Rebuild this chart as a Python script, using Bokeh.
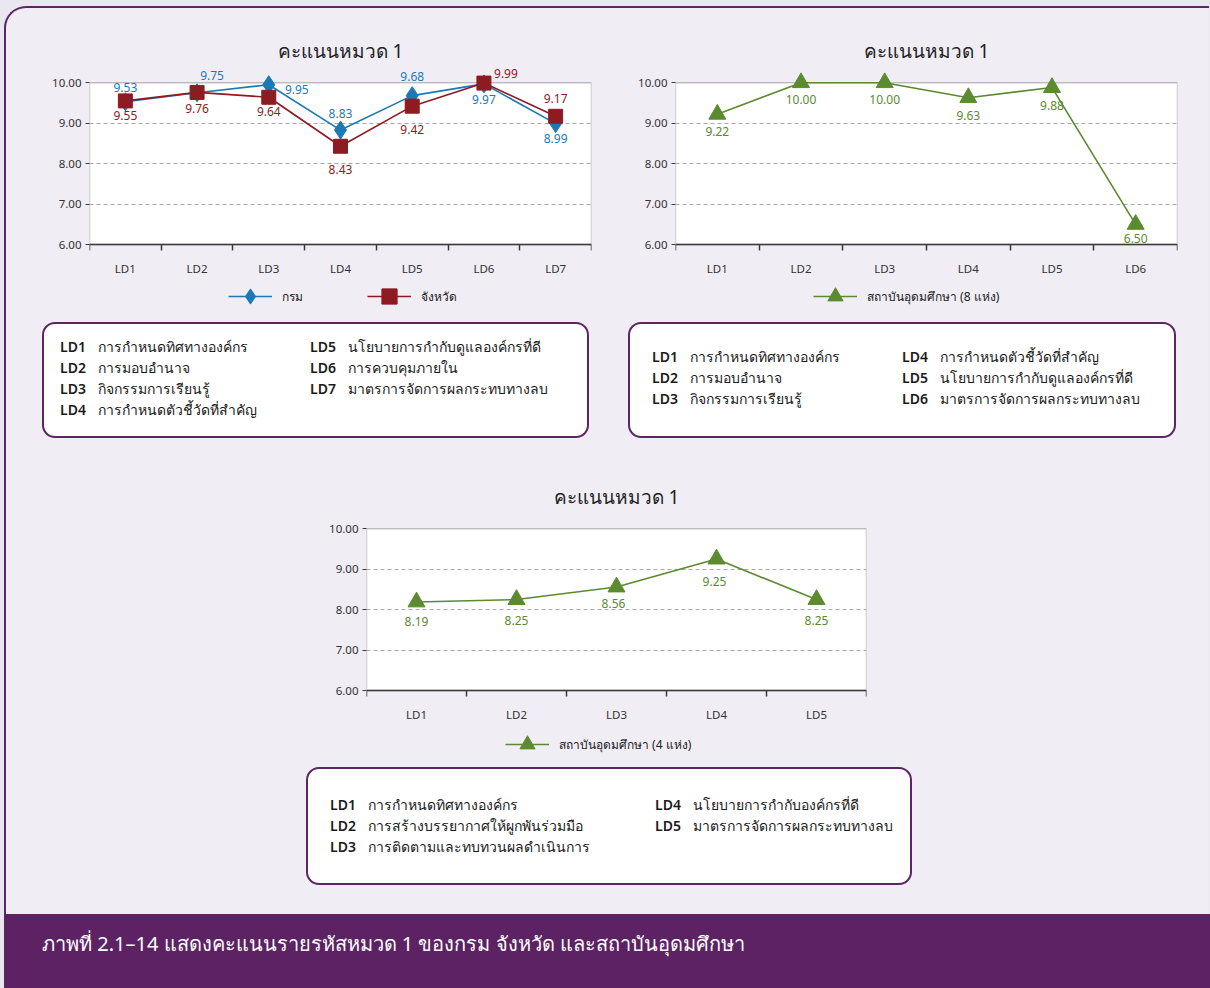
from bokeh.plotting import figure
from bokeh.models import (ColumnDataSource, FixedTicker, NumeralTickFormatter,
                          Legend, LegendItem, Div, Spacer, Range1d, BoxAnnotation)
from bokeh.layouts import column, row
from bokeh.core.properties import value
from bokeh.embed import file_html
from bokeh.resources import INLINE

# ---------------- data ----------------
chart_title = "คะแนนหมวด 1"

c1_categories = ["LD1", "LD2", "LD3", "LD4", "LD5", "LD6", "LD7"]
c1_dept = [9.53, 9.75, 9.95, 8.83, 9.68, 9.97, 8.99]
c1_prov = [9.55, 9.76, 9.64, 8.43, 9.42, 9.99, 9.17]
c1_series = ["กรม", "จังหวัด"]

c2_categories = ["LD1", "LD2", "LD3", "LD4", "LD5", "LD6"]
c2_inst = [9.22, 10.00, 10.00, 9.63, 9.88, 6.50]
c2_series = "สถาบันอุดมศึกษา (8 แห่ง)"

c3_categories = ["LD1", "LD2", "LD3", "LD4", "LD5"]
c3_inst = [8.19, 8.25, 8.56, 9.25, 8.25]
c3_series = "สถาบันอุดมศึกษา (4 แห่ง)"

y_min, y_max = 6, 10
y_ticks = [6, 7, 8, 9, 10]
grid_ticks = [7, 8, 9]

box1_codes = ["LD1", "LD2", "LD3", "LD4", "LD5", "LD6", "LD7"]
box1_terms = ["การกำหนดทิศทางองค์กร", "การมอบอำนาจ", "กิจกรรมการเรียนรู้",
              "การกำหนดตัวชี้วัดที่สำคัญ", "นโยบายการกำกับดูแลองค์กรที่ดี",
              "การควบคุมภายใน", "มาตรการจัดการผลกระทบทางลบ"]
box2_codes = ["LD1", "LD2", "LD3", "LD4", "LD5", "LD6"]
box2_terms = ["การกำหนดทิศทางองค์กร", "การมอบอำนาจ", "กิจกรรมการเรียนรู้",
              "การกำหนดตัวชี้วัดที่สำคัญ", "นโยบายการกำกับดูแลองค์กรที่ดี",
              "มาตรการจัดการผลกระทบทางลบ"]
box3_codes = ["LD1", "LD2", "LD3", "LD4", "LD5"]
box3_terms = ["การกำหนดทิศทางองค์กร", "การสร้างบรรยากาศให้ผูกพันร่วมมือ",
              "การติดตามและทบทวนผลดำเนินการ", "นโยบายการกำกับองค์กรที่ดี",
              "มาตรการจัดการผลกระทบทางลบ"]

caption = "ภาพที่ 2.1–14  แสดงคะแนนรายรหัสหมวด 1 ของกรม จังหวัด และสถาบันอุดมศึกษา"

# ---------------- styles ----------------
BG = "#f0edf5"
OUTER = "#ebe7f0"
PURPLE = "#5d2466"
BLUE = "#1b7ab5"
RED = "#8e1b22"
GREEN = "#5b8a2f"
AXIS = "#3a3a3a"
FONT = "Noto Sans"
HEADROOM = 0.4   # space above the plot box so top markers are not clipped
FOOTROOM = 1.85  # space below the plot box for the category labels and legend


def base_chart(categories, width, height, left, right, top, bottom):
    n = len(categories)
    p = figure(width=width, height=height, output_backend="svg", toolbar_location=None,
               x_range=Range1d(0.5, n + 0.5),
               y_range=Range1d(y_min - FOOTROOM, y_max + HEADROOM),
               min_border_left=left, min_border_right=right,
               min_border_top=top, min_border_bottom=bottom,
               background_fill_color=BG, background_fill_alpha=0,
               border_fill_color=BG, border_fill_alpha=0)
    p.outline_line_color = None
    box = BoxAnnotation(left=0.5, right=n + 0.5, bottom=y_min, top=y_max,
                        fill_color="white", fill_alpha=1,
                        line_color=AXIS, line_width=1.5, level="image")
    p.add_layout(box)
    p.title.text = chart_title
    p.title.align = "center"
    p.title.text_font = FONT
    p.title.text_font_size = "19px"
    p.title.text_font_style = "normal"
    p.title.text_color = "#222222"
    p.title.standoff = 6
    p.xgrid.visible = False
    p.ygrid.ticker = FixedTicker(ticks=grid_ticks)
    p.ygrid.grid_line_color = "#a8a8a8"
    p.ygrid.grid_line_dash = "4 3"
    p.ygrid.grid_line_width = 1
    p.yaxis.ticker = FixedTicker(ticks=y_ticks)
    p.yaxis.formatter = NumeralTickFormatter(format="0.00")
    p.yaxis.minor_tick_line_color = None
    p.yaxis.major_tick_in = 0
    p.yaxis.major_tick_out = 4
    p.yaxis.axis_line_color = None
    p.yaxis.major_tick_line_color = AXIS
    p.yaxis.major_label_text_font = FONT
    p.yaxis.major_label_text_font_size = "11.5px"
    p.yaxis.major_label_text_color = "#333333"
    p.yaxis.major_label_standoff = 4
    centers = list(range(1, n + 1))
    p.xaxis.fixed_location = y_min
    p.xaxis.ticker = FixedTicker(ticks=centers,
                                 minor_ticks=[i + 0.5 for i in range(0, n + 1)])
    p.xaxis.major_label_overrides = {c: lab for c, lab in zip(centers, categories)}
    p.xaxis.major_tick_line_color = None
    p.xaxis.minor_tick_line_color = AXIS
    p.xaxis.minor_tick_line_width = 1.5
    p.xaxis.minor_tick_in = 0
    p.xaxis.minor_tick_out = 6
    p.xaxis.axis_line_color = AXIS
    p.xaxis.axis_line_width = 1.5
    p.xaxis.major_label_text_font = FONT
    p.xaxis.major_label_text_font_size = "11.5px"
    p.xaxis.major_label_text_color = "#333333"
    p.xaxis.major_label_standoff = 10
    return p


def add_labels(p, xs, ys, color, xoff, yoff):
    src = ColumnDataSource(dict(x=xs, y=ys, t=["%.2f" % v for v in ys],
                                xo=xoff, yo=yoff))
    p.text(x="x", y="y", text="t", source=src, x_offset="xo", y_offset="yo",
           text_align="center", text_baseline="middle", text_color=color,
           text_font=value(FONT), text_font_size="12px")


def make_legend(p, items, spacing, loc):
    lg = Legend(items=items, orientation="horizontal", location=loc,
                border_line_color=None, background_fill_alpha=0,
                glyph_width=44, glyph_height=38, label_height=16,
                label_standoff=10, spacing=spacing, padding=0, margin=0,
                label_text_font=FONT, label_text_font_size="12px",
                label_text_color="#222222")
    p.add_layout(lg)


# ---------------- chart 1 ----------------
p1 = base_chart(c1_categories, 597, 308, 81, 14, 55, 0)
x1 = list(range(1, len(c1_categories) + 1))
l1 = p1.line(x1, c1_dept, line_color=BLUE, line_width=1.6)
s1 = p1.scatter(x1, c1_dept, marker="diamond", size=18, fill_color=BLUE, line_color=BLUE)
l2 = p1.line(x1, c1_prov, line_color=RED, line_width=1.6)
s2 = p1.scatter(x1, c1_prov, marker="square", size=14, fill_color=RED, line_color=RED)
add_labels(p1, x1, c1_dept, BLUE,
           [0, 15, 28, 0, 0, 0, 0], [-14, -17, 5, -17, -19, 16, 15])
add_labels(p1, x1, c1_prov, RED,
           [0, 0, 0, 0, 0, 22, 0], [15, 16, 14, 23, 23, -10, -18])
make_legend(p1, [LegendItem(label=c1_series[0], renderers=[l1, s1]),
                 LegendItem(label=c1_series[1], renderers=[l2, s2])], 64, (139, 4))

# ---------------- chart 2 ----------------
p2 = base_chart(c2_categories, 600, 308, 70, 28, 55, 0)
x2 = list(range(1, len(c2_categories) + 1))
l3 = p2.line(x2, c2_inst, line_color=GREEN, line_width=1.6)
s3 = p2.scatter(x2, c2_inst, marker="triangle", size=17, fill_color=GREEN, line_color=GREEN)
add_labels(p2, x2, c2_inst, GREEN, [0] * 6, [17, 17, 17, 18, 18, 14])
make_legend(p2, [LegendItem(label=c2_series, renderers=[l3, s3])], 20, (138, 4))

# ---------------- chart 3 ----------------
p3 = base_chart(c3_categories, 1197, 315, 358, 339, 62, 0)
x3 = list(range(1, len(c3_categories) + 1))
l4 = p3.line(x3, c3_inst, line_color=GREEN, line_width=1.6)
s4 = p3.scatter(x3, c3_inst, marker="triangle", size=17, fill_color=GREEN, line_color=GREEN)
add_labels(p3, x3, c3_inst, GREEN, [0, 0, -3, -2, 0], [20, 21, 17, 22, 21])
make_legend(p3, [LegendItem(label=c3_series, renderers=[l4, s4])], 20, (139, 2))


# ---------------- text boxes ----------------
def box_html(codes, terms, split, col1_left, col2_left, pad_top):
    def col(cs, ts, left):
        lines = "".join(
            '<div style="height:21px;line-height:21px;white-space:nowrap;">'
            '<span style="display:inline-block;width:38px;font-weight:600;">%s</span>%s</div>'
            % (c, t) for c, t in zip(cs, ts))
        return ('<div style="position:absolute;left:%dpx;top:%dpx;">%s</div>'
                % (left, pad_top, lines))
    return ('<div style="position:relative;width:100%%;height:100%%;'
            'font-family:\'Noto Sans\',sans-serif;font-size:14px;color:#1a1a1a;">%s%s</div>'
            % (col(codes[:split], terms[:split], col1_left),
               col(codes[split:], terms[split:], col2_left)))


def make_box(codes, terms, split, col1_left, col2_left, pad_top, w, h):
    return Div(text=box_html(codes, terms, split, col1_left, col2_left, pad_top),
               width=w, height=h, margin=0,
               styles={"background-color": "white", "border": "2.5px solid " + PURPLE,
                       "border-radius": "13px", "box-sizing": "border-box"})


box1 = make_box(box1_codes, box1_terms, 4, 16, 266, 0, 547, 116)
box2 = make_box(box2_codes, box2_terms, 3, 22, 272, 10, 548, 116)
box3 = make_box(box3_codes, box3_terms, 3, 22, 347, 13, 606, 118)

boxes_row = column(Spacer(height=3),
                   row(Spacer(width=34), box1, Spacer(width=39), box2, spacing=0),
                   Spacer(height=12), spacing=0)

box3_row = column(Spacer(height=2), row(Spacer(width=298), box3, spacing=0),
                  Spacer(height=28), spacing=0)

frame = column(row(p1, p2, spacing=0), boxes_row, p3, box3_row, spacing=0,
               width=1205, height=908,
               styles={"background-color": BG,
                       "border-left": "2.5px solid " + PURPLE,
                       "border-top": "2.5px solid " + PURPLE,
                       "border-top-left-radius": "22px",
                       "box-sizing": "border-box", "padding-top": "3px",
                       "padding-left": "2px"})

cap = Div(text='<div style="padding-left:38px;line-height:60px;color:white;'
               'font-family:\'Noto Sans\',sans-serif;font-size:20px;">%s</div>' % caption,
          width=1206, height=74, margin=0,
          styles={"background-color": "#5c2263"})

root = column(Spacer(height=6), row(Spacer(width=4), frame, spacing=0),
              row(Spacer(width=4), cap, spacing=0), spacing=0,
              styles={"background-color": OUTER})

with open("out.html", "w") as f:
    f.write(file_html(root, INLINE))
